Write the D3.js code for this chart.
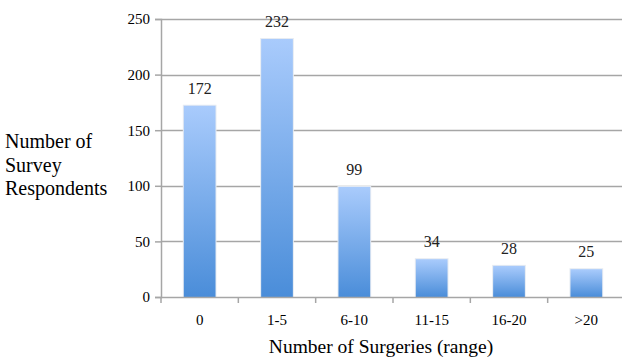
<!DOCTYPE html>
<html>
<head>
<meta charset="utf-8">
<script src="https://cdn.jsdelivr.net/npm/d3@7"></script>
<style>
  body { margin: 0; background: #fff; }
  svg { display: block; }
  svg text { font-family: "Liberation Serif", "DejaVu Serif", serif; }
</style>
</head>
<body>
<div id="chart"></div>
<script>
"use strict";

// Chart data
const categories = ["0", "1-5", "6-10", "11-15", "16-20", ">20"];
const respondents = [172, 232, 99, 34, 28, 25];
const yTicks = [0, 50, 100, 150, 200, 250];

const width = 622;
const height = 358;
const FONT = "'Liberation Serif', 'DejaVu Serif', serif";

// plot area (left axis at x=161, baseline at y=297)
const plotLeft = 161, plotRight = 625, plotTop = 19, plotBottom = 297;

const svg = d3.select("#chart")
	.append("svg")
	.attr("width", width)
	.attr("height", height);

const x = d3.scaleBand()
	.domain(categories)
	.range([plotLeft, plotRight])
	.paddingInner(0.59)
	.paddingOuter(0.295);

const y = d3.scaleLinear()
	.domain([0, 250])
	.range([plotBottom, plotTop]);

// bar gradient, light at top, darker at bottom
const grad = svg.append("defs").append("linearGradient")
	.attr("id", "barGrad")
	.attr("x1", 0).attr("y1", 0).attr("x2", 0).attr("y2", 1);
grad.append("stop").attr("offset", "0%").attr("stop-color", "#a9cbfc");
grad.append("stop").attr("offset", "100%").attr("stop-color", "#4a8dd9");

// gridlines
svg.append("g")
	.selectAll("line")
	.data(yTicks.filter(d => d > 0))
	.enter()
	.append("line")
	.attr("x1", plotLeft)
	.attr("x2", width)
	.attr("y1", d => Math.round(y(d)) + 0.5)
	.attr("y2", d => Math.round(y(d)) + 0.5)
	.style("stroke", "#a6a6a6")
	.style("stroke-width", 1.5);

// bars, with a faint shadow edge
svg.append("g")
	.selectAll("rect")
	.data(respondents)
	.enter()
	.append("rect")
	.attr("x", (d, i) => x(categories[i]) - 1)
	.attr("y", d => y(d) - 1)
	.attr("width", x.bandwidth() + 2)
	.attr("height", d => plotBottom - y(d) + 1)
	.style("fill", "#e6ebf2");

svg.append("g")
	.selectAll("rect")
	.data(respondents)
	.enter()
	.append("rect")
	.attr("x", (d, i) => x(categories[i]))
	.attr("y", d => y(d))
	.attr("width", x.bandwidth())
	.attr("height", d => plotBottom - y(d))
	.style("fill", "url(#barGrad)");

// value labels
svg.append("g")
	.selectAll("text")
	.data(respondents)
	.enter()
	.append("text")
	.attr("x", (d, i) => x(categories[i]) + x.bandwidth() / 2)
	.attr("y", d => y(d) - 12)
	.attr("text-anchor", "middle")
	.style("font-family", FONT)
	.style("font-size", "16px")
	.style("fill", "#222")
	.text(d => d);

// y axis
const yAxis = svg.append("g")
	.attr("transform", `translate(${plotLeft},0)`)
	.call(d3.axisLeft(y).tickValues(yTicks).tickSize(6).tickPadding(5));
yAxis.attr("font-family", null);
yAxis.select(".domain").style("stroke", "#a6a6a6").style("stroke-width", 1.5);
yAxis.selectAll(".tick line").style("stroke", "#a6a6a6").style("stroke-width", 1.5);
yAxis.selectAll("text")
	.style("font-size", "15px")
	.style("font-family", FONT)
	.style("fill", "#000");

// x axis, ticks between categories
const xAxis = svg.append("g")
	.attr("transform", `translate(0,${plotBottom})`);
xAxis.append("line")
	.attr("x1", plotLeft).attr("x2", width)
	.attr("y1", 0.5).attr("y2", 0.5)
	.style("stroke", "#a6a6a6").style("stroke-width", 1.5);
const step = x.step();
xAxis.selectAll("line.tk")
	.data(d3.range(categories.length + 1))
	.enter()
	.append("line")
	.attr("class", "tk")
	.attr("x1", i => plotLeft + i * step)
	.attr("x2", i => plotLeft + i * step)
	.attr("y1", 0).attr("y2", 6)
	.style("stroke", "#a6a6a6").style("stroke-width", 1.5);
xAxis.selectAll("text")
	.data(categories)
	.enter()
	.append("text")
	.attr("x", d => x(d) + x.bandwidth() / 2)
	.attr("y", 28)
	.attr("text-anchor", "middle")
	.style("font-family", FONT)
	.style("font-size", "15px")
	.text(d => d);

// axis titles
svg.append("text")
	.attr("x", 381)
	.attr("y", 353)
	.attr("text-anchor", "middle")
	.style("font-family", FONT)
	.style("font-size", "19.5px")
	.text("Number of Surgeries (range)");

const yTitle = svg.append("text")
	.attr("x", 5)
	.style("font-family", FONT)
	.style("font-size", "20px");
["Number of", "Survey", "Respondents"].forEach((t, i) => {
	yTitle.append("tspan")
		.attr("x", 5)
		.attr("y", 148 + i * 23.5)
		.text(t);
});
</script>
</body>
</html>
